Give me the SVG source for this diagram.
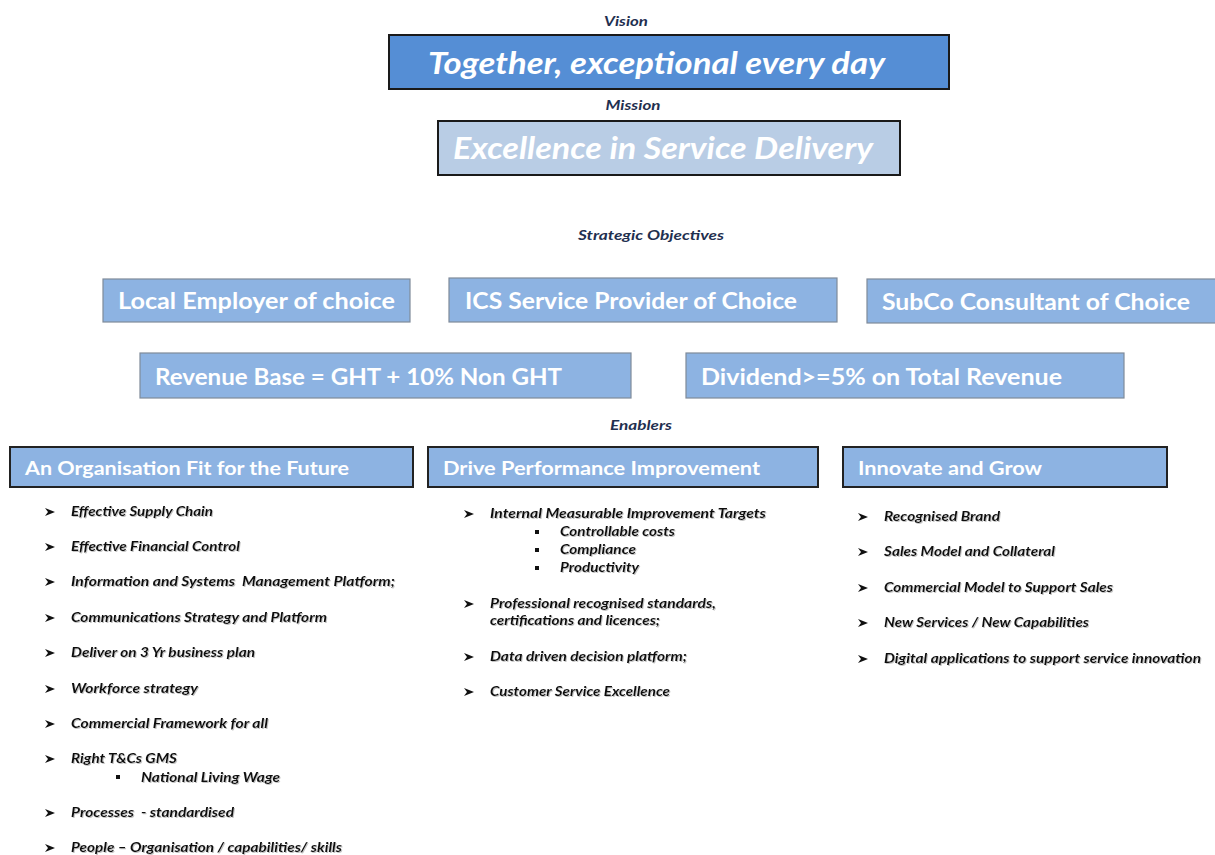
<svg xmlns="http://www.w3.org/2000/svg" width="1215" height="855" viewBox="0 0 1215 855">
  <style>
    .cap { font-family: Lato, "Open Sans", "Liberation Sans", sans-serif; font-weight: bold; font-style: italic; font-size: 13px; fill: #1f3050; text-anchor: middle; }
    .big { font-family: Lato, "Open Sans", "Liberation Sans", sans-serif; font-weight: bold; font-style: italic; font-size: 31px; fill: #ffffff; }
    .obj { font-family: Lato, "Open Sans", "Liberation Sans", sans-serif; font-weight: bold; font-size: 22px; fill: #ffffff; }
    .hdr { font-family: Lato, "Open Sans", "Liberation Sans", sans-serif; font-weight: bold; font-size: 19px; fill: #ffffff; }
    .item { font-family: Lato, "Open Sans", "Liberation Sans", sans-serif; font-weight: bold; font-style: italic; font-size: 13px; fill: #111111; filter: url(#soft); white-space: pre; }
    .objbox { fill: #8db3e2; stroke: #7f8a99; stroke-width: 1.2; }
    .hdrbox { fill: #8db3e2; stroke: #222222; stroke-width: 2; }
    .sq { fill: #111111; }
  </style>
  <defs>
    <filter id="soft" x="-5%" y="-30%" width="110%" height="160%">
      <feDropShadow dx="1" dy="1" stdDeviation="0.6" flood-color="#888888" flood-opacity="0.5"/>
    </filter>
    <!-- arrowhead bullet -->
    <symbol id="arrow" viewBox="0 0 10 8" width="10" height="8">
      <path d="M0 0 L10 4 L0 8 L3 4 Z" fill="#111111"/>
    </symbol>
  </defs>

  <rect width="1215" height="855" fill="#ffffff"/>

  <!-- Vision -->
  <g id="vision">
    <text class="cap" x="626" y="26" textLength="44" lengthAdjust="spacingAndGlyphs">Vision</text>
    <rect x="389" y="35" width="560" height="54" fill="#558ed5" stroke="#1a1a1a" stroke-width="2"/>
    <text class="big" x="428" y="74" textLength="457" lengthAdjust="spacingAndGlyphs">Together, exceptional every day</text>
  </g>

  <!-- Mission -->
  <g id="mission">
    <text class="cap" x="633" y="110" textLength="55" lengthAdjust="spacingAndGlyphs">Mission</text>
    <rect x="438" y="121" width="462" height="54" fill="#b9cde5" stroke="#1a1a1a" stroke-width="2"/>
    <text class="big" x="453" y="159" textLength="420" lengthAdjust="spacingAndGlyphs">Excellence in Service Delivery</text>
  </g>

  <!-- Strategic objectives -->
  <g id="objectives-title">
    <text class="cap" x="651" y="240" textLength="146" lengthAdjust="spacingAndGlyphs">Strategic Objectives</text>
  </g>
  <g id="obj-local">
    <rect class="objbox" x="103" y="279" width="307" height="43"/>
    <text class="obj" x="118" y="309" textLength="277" lengthAdjust="spacingAndGlyphs">Local Employer of choice</text>
  </g>
  <g id="obj-ics">
    <rect class="objbox" x="449" y="278" width="388" height="44"/>
    <text class="obj" x="465" y="309" textLength="332" lengthAdjust="spacingAndGlyphs">ICS Service Provider of Choice</text>
  </g>
  <g id="obj-subco">
    <rect class="objbox" x="867" y="279" width="352" height="44"/>
    <text class="obj" x="882" y="310" textLength="308" lengthAdjust="spacingAndGlyphs">SubCo Consultant of Choice</text>
  </g>
  <g id="obj-revenue">
    <rect class="objbox" x="140" y="353" width="491" height="45"/>
    <text class="obj" x="155" y="385" textLength="407" lengthAdjust="spacingAndGlyphs">Revenue Base = GHT + 10% Non GHT</text>
  </g>
  <g id="obj-dividend">
    <rect class="objbox" x="686" y="353" width="438" height="45"/>
    <text class="obj" x="701" y="385" textLength="361" lengthAdjust="spacingAndGlyphs">Dividend&gt;=5% on Total Revenue</text>
  </g>

  <!-- Enablers -->
  <g id="enablers-title">
    <text class="cap" x="641" y="430" textLength="62" lengthAdjust="spacingAndGlyphs">Enablers</text>
  </g>

  <g id="enabler-organisation">
    <rect class="hdrbox" x="10" y="447" width="403" height="40"/>
    <text class="hdr" x="25" y="475" textLength="324" lengthAdjust="spacingAndGlyphs">An Organisation Fit for the Future</text>
    <use href="#arrow" x="45" y="508"/>
    <text class="item" x="71" y="516" textLength="142" lengthAdjust="spacingAndGlyphs">Effective Supply Chain</text>
    <use href="#arrow" x="45" y="543"/>
    <text class="item" x="71" y="551" textLength="169" lengthAdjust="spacingAndGlyphs">Effective Financial Control</text>
    <use href="#arrow" x="45" y="578"/>
    <text class="item" x="71" y="586" textLength="324" lengthAdjust="spacingAndGlyphs">Information and Systems  Management Platform;</text>
    <use href="#arrow" x="45" y="614"/>
    <text class="item" x="71" y="622" textLength="256" lengthAdjust="spacingAndGlyphs">Communications Strategy and Platform</text>
    <use href="#arrow" x="45" y="649"/>
    <text class="item" x="71" y="657" textLength="184" lengthAdjust="spacingAndGlyphs">Deliver on 3 Yr business plan</text>
    <use href="#arrow" x="45" y="685"/>
    <text class="item" x="71" y="693" textLength="127" lengthAdjust="spacingAndGlyphs">Workforce strategy</text>
    <use href="#arrow" x="45" y="720"/>
    <text class="item" x="71" y="728" textLength="197" lengthAdjust="spacingAndGlyphs">Commercial Framework for all</text>
    <use href="#arrow" x="45" y="755"/>
    <text class="item" x="71" y="763" textLength="106" lengthAdjust="spacingAndGlyphs">Right T&amp;Cs GMS</text>
    <rect class="sq" x="116" y="775" width="4" height="4"/>
    <text class="item" x="141" y="782" textLength="139" lengthAdjust="spacingAndGlyphs">National Living Wage</text>
    <use href="#arrow" x="45" y="809"/>
    <text class="item" x="71" y="817" textLength="163" lengthAdjust="spacingAndGlyphs">Processes  - standardised</text>
    <use href="#arrow" x="45" y="844"/>
    <text class="item" x="71" y="852" textLength="271" lengthAdjust="spacingAndGlyphs">People – Organisation / capabilities/ skills</text>
  </g>

  <g id="enabler-performance">
    <rect class="hdrbox" x="428" y="447" width="390" height="40"/>
    <text class="hdr" x="443" y="475" textLength="317" lengthAdjust="spacingAndGlyphs">Drive Performance Improvement</text>
    <use href="#arrow" x="464" y="510"/>
    <text class="item" x="490" y="518" textLength="276" lengthAdjust="spacingAndGlyphs">Internal Measurable Improvement Targets</text>
    <rect class="sq" x="535" y="530" width="4" height="4"/>
    <text class="item" x="560" y="536" textLength="115" lengthAdjust="spacingAndGlyphs">Controllable costs</text>
    <rect class="sq" x="535" y="548" width="4" height="4"/>
    <text class="item" x="560" y="554" textLength="76" lengthAdjust="spacingAndGlyphs">Compliance</text>
    <rect class="sq" x="535" y="566" width="4" height="4"/>
    <text class="item" x="560" y="572" textLength="79" lengthAdjust="spacingAndGlyphs">Productivity</text>
    <use href="#arrow" x="464" y="600"/>
    <text class="item" x="490" y="608" textLength="226" lengthAdjust="spacingAndGlyphs">Professional recognised standards,</text>
    <text class="item" x="490" y="625" textLength="170" lengthAdjust="spacingAndGlyphs">certifications and licences;</text>
    <use href="#arrow" x="464" y="653"/>
    <text class="item" x="490" y="661" textLength="197" lengthAdjust="spacingAndGlyphs">Data driven decision platform;</text>
    <use href="#arrow" x="464" y="688"/>
    <text class="item" x="490" y="696" textLength="180" lengthAdjust="spacingAndGlyphs">Customer Service Excellence</text>
  </g>

  <g id="enabler-innovate">
    <rect class="hdrbox" x="843" y="447" width="324" height="40"/>
    <text class="hdr" x="858" y="475" textLength="184" lengthAdjust="spacingAndGlyphs">Innovate and Grow</text>
    <use href="#arrow" x="858" y="513"/>
    <text class="item" x="884" y="521" textLength="116" lengthAdjust="spacingAndGlyphs">Recognised Brand</text>
    <use href="#arrow" x="858" y="548"/>
    <text class="item" x="884" y="556" textLength="171" lengthAdjust="spacingAndGlyphs">Sales Model and Collateral</text>
    <use href="#arrow" x="858" y="584"/>
    <text class="item" x="884" y="592" textLength="229" lengthAdjust="spacingAndGlyphs">Commercial Model to Support Sales</text>
    <use href="#arrow" x="858" y="619"/>
    <text class="item" x="884" y="627" textLength="205" lengthAdjust="spacingAndGlyphs">New Services / New Capabilities</text>
    <use href="#arrow" x="858" y="655"/>
    <text class="item" x="884" y="663" textLength="317" lengthAdjust="spacingAndGlyphs">Digital applications to support service innovation</text>
  </g>

  <!-- no connectors are drawn between these blocks -->
  <g id="connectors"/>
</svg>
